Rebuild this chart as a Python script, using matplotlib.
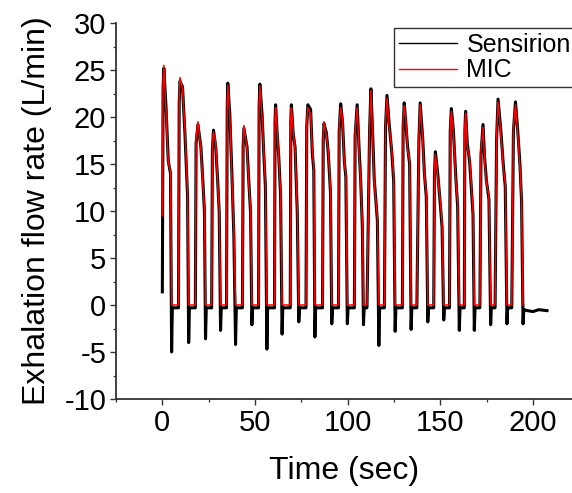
import matplotlib
matplotlib.use('Agg')
import matplotlib.pyplot as plt
from matplotlib.lines import Line2D
from matplotlib.ticker import MultipleLocator

# pontos, um ciclo de exalacao por linha
# t0 (subida), topo da subida, pico, tres pontos na descida, queda, volta ao zero
ciclo_t = [
    [0.0, 0.4, 0.8, 2.0, 3.2, 4.4, 5.0, 5.4],
    [8.7, 9.1, 9.5, 10.9, 12.2, 13.6, 14.2, 14.6],
    [17.8, 18.2, 19.2, 20.8, 21.8, 22.7, 23.3, 23.7],
    [26.6, 27.0, 27.6, 28.8, 29.8, 30.7, 31.4, 31.8],
    [34.6, 35.0, 35.3, 36.4, 37.6, 38.6, 39.5, 39.9],
    [43.2, 43.6, 44.0, 45.7, 46.6, 47.6, 48.3, 48.7],
    [51.9, 52.2, 52.6, 53.8, 54.7, 55.6, 56.4, 56.8],
    [60.5, 60.8, 61.1, 62.0, 62.8, 63.8, 64.6, 65.0],
    [69.0, 69.3, 69.6, 70.6, 71.6, 72.8, 73.6, 74.0],
    [77.5, 77.9, 78.5, 80.0, 80.9, 81.7, 82.3, 82.7],
    [86.4, 86.8, 87.2, 88.5, 89.5, 90.7, 91.4, 91.8],
    [95.0, 95.4, 96.2, 97.2, 98.2, 99.0, 99.8, 100.2],
    [103.6, 104.0, 105.1, 106.1, 107.0, 107.9, 108.5, 108.9],
    [110.4, 111.8, 112.5, 113.4, 114.3, 116.0, 116.8, 117.2],
    [119.8, 120.4, 121.2, 122.4, 123.8, 124.8, 125.6, 126.0],
    [129.5, 129.9, 130.5, 131.3, 132.3, 133.4, 134.2, 134.6],
    [137.3, 138.4, 139.1, 140.5, 141.4, 142.4, 143.2, 143.6],
    [146.4, 146.8, 147.3, 148.6, 150.0, 150.9, 151.8, 152.2],
    [154.9, 155.3, 155.9, 157.0, 158.4, 159.3, 160.2, 160.6],
    [162.9, 163.2, 163.6, 164.5, 165.8, 167.6, 168.3, 168.7],
    [171.3, 171.9, 173.0, 173.8, 174.8, 176.2, 177.1, 177.5],
    [179.5, 180.3, 181.1, 182.6, 183.9, 185.0, 185.9, 186.3],
    [188.5, 189.4, 190.5, 191.6, 192.9, 193.8, 194.6, 195.0],
]

mic_v = [
    [9.5, 23.5, 25.5, 20.5, 15.1, 14.3, 0, 0],
    [0, 22.0, 24.2, 23.0, 18.6, 12.0, 0, 0],
    [0, 17.8, 19.5, 16.5, 13.0, 10.5, 0, 0],
    [0, 17.0, 18.4, 17.3, 13.0, 10.2, 0, 0],
    [0, 21.5, 23.4, 20.0, 13.0, 8.0, 0, 0],
    [0, 17.5, 19.1, 16.5, 13.0, 10.2, 0, 0],
    [0, 21.5, 23.3, 20.0, 16.5, 13.0, 0, 0],
    [0, 20.0, 21.0, 18.5, 15.5, 12.0, 0, 0],
    [0, 20.0, 21.0, 18.6, 16.5, 10.2, 0, 0],
    [0, 19.5, 21.0, 20.3, 16.5, 14.7, 0, 0],
    [0, 18.0, 19.5, 17.9, 16.5, 12.3, 0, 0],
    [0, 19.0, 21.0, 19.9, 14.9, 14.0, 0, 0],
    [0, 18.5, 21.0, 16.5, 13.0, 8.7, 0, 0],
    [0, 19.0, 22.8, 18.3, 13.0, 9.4, 0, 0],
    [0, 19.5, 22.0, 18.9, 16.5, 13.6, 0, 0],
    [0, 19.5, 21.2, 19.9, 16.5, 15.3, 0, 0],
    [0, 18.0, 21.3, 17.3, 13.6, 11.9, 0, 0],
    [0, 14.5, 16.0, 13.6, 10.9, 8.7, 0, 0],
    [0, 19.0, 20.6, 18.3, 13.0, 10.9, 0, 0],
    [0, 19.0, 20.4, 16.9, 15.5, 10.0, 0, 0],
    [0, 16.5, 18.9, 15.5, 13.0, 11.6, 0, 0],
    [0, 18.0, 21.6, 18.3, 14.7, 13.0, 0, 0],
    [0, 19.0, 21.3, 18.6, 14.7, 11.2, 0, 0],
]

sen_v = [
    [1.4, 23.0, 25.2, 21.0, 15.3, 14.0, -5.0, -0.3],
    [-0.3, 21.5, 23.8, 23.2, 18.2, 11.6, -4.0, -0.3],
    [-0.3, 17.2, 19.2, 16.8, 13.4, 10.0, -3.6, -0.3],
    [-0.3, 16.5, 18.6, 16.8, 13.4, 9.8, -2.7, -0.3],
    [-0.3, 21.0, 23.6, 20.3, 13.5, 7.2, -4.2, -0.3],
    [-0.3, 17.0, 18.8, 16.8, 13.3, 9.8, -2.1, -0.3],
    [-0.3, 21.0, 23.5, 20.3, 16.2, 12.6, -4.7, -0.3],
    [-0.3, 19.5, 21.3, 18.0, 15.8, 11.6, -3.1, -0.3],
    [-0.3, 19.5, 21.3, 18.2, 16.8, 9.8, -1.8, -0.3],
    [-0.3, 19.0, 21.3, 20.8, 16.2, 14.3, -3.4, -0.3],
    [-0.3, 17.5, 19.3, 18.3, 16.2, 12.0, -2.0, -0.3],
    [-0.3, 18.5, 21.4, 19.5, 15.2, 13.6, -2.0, -0.3],
    [-0.3, 18.0, 21.3, 16.8, 13.3, 8.3, -2.1, -0.3],
    [-0.3, 18.5, 23.0, 18.6, 13.4, 9.0, -4.3, -0.3],
    [-0.3, 19.0, 22.3, 19.2, 16.2, 13.2, -2.8, -0.3],
    [-0.3, 19.0, 21.5, 19.5, 16.8, 15.0, -2.6, -0.3],
    [-0.3, 17.5, 21.5, 17.6, 13.9, 11.5, -1.8, -0.3],
    [-0.3, 14.0, 16.3, 13.9, 10.6, 8.3, -1.6, -0.3],
    [-0.3, 18.5, 20.9, 18.6, 13.3, 10.5, -2.7, -0.3],
    [-0.3, 18.5, 20.6, 17.2, 15.2, 9.6, -2.7, -0.3],
    [-0.3, 16.0, 19.2, 15.8, 13.3, 11.2, -2.1, -0.3],
    [-0.3, 17.5, 21.9, 18.6, 15.0, 12.6, -2.0, -0.3],
    [-0.3, 18.5, 21.6, 18.9, 15.0, 11.0, -2.0, -0.5],
]

# Sensirion continua gravando depois do ultimo ciclo
cauda_t = [197.0, 200.0, 203.0, 207.5]
cauda_v = [-0.6, -0.7, -0.5, -0.6]

legenda = ["Sensirion", "MIC"]

# junta os ciclos numa serie so
t_all = [t for c in ciclo_t for t in c]
mic_all = [v for c in mic_v for v in c]
sen_t = t_all + cauda_t
sen_all = [v for c in sen_v for v in c] + cauda_v

plt.rcParams['font.family'] = ['Liberation Sans', 'DejaVu Sans']
plt.rcParams['axes.unicode_minus'] = False  # hifen normal, como no Origin

fig = plt.figure(figsize=(5.72, 4.93), dpi=100)
ax = fig.add_axes([116 / 572, 1 - 399 / 493, 1 - 116 / 572, (399 - 23) / 493])

ax.plot(sen_t, sen_all, color='black', lw=2.2, zorder=2)
ax.plot(t_all, mic_all, color='red', lw=1.1, zorder=3)

ax.set_xlim(-25, 221)
ax.set_ylim(-10, 30)
ax.xaxis.set_major_locator(MultipleLocator(50))
ax.xaxis.set_minor_locator(MultipleLocator(25))
ax.yaxis.set_major_locator(MultipleLocator(5))
ax.yaxis.set_minor_locator(MultipleLocator(2.5))

for lado in ['top', 'right']:
    ax.spines[lado].set_visible(False)
for lado in ['left', 'bottom']:
    ax.spines[lado].set_color('#333333')
    ax.spines[lado].set_linewidth(1.3)

ax.tick_params(which='major', direction='out', length=4, width=1.0, color='#333333',
               labelsize=21, pad=3)
ax.tick_params(which='minor', direction='out', length=2.3, width=0.9, color='#333333')

ax.set_xlabel("Time (sec)", fontsize=23, labelpad=14)
ax.set_ylabel("Exhalation flow rate (L/min)", fontsize=23, labelpad=9)

handles = [Line2D([], [], color='black', lw=1.0), Line2D([], [], color='red', lw=1.0)]
leg = fig.legend(handles, legenda, loc='upper left', bbox_to_anchor=(394 / 572, 1 - 28 / 493),
                 fontsize=18, frameon=True, fancybox=False, borderaxespad=0,
                 handlelength=2.3, handletextpad=0.4, labelspacing=0.05, borderpad=0.2)
leg.get_frame().set_edgecolor('black')
leg.get_frame().set_linewidth(1.0)

plt.savefig("out.png", dpi=100)
